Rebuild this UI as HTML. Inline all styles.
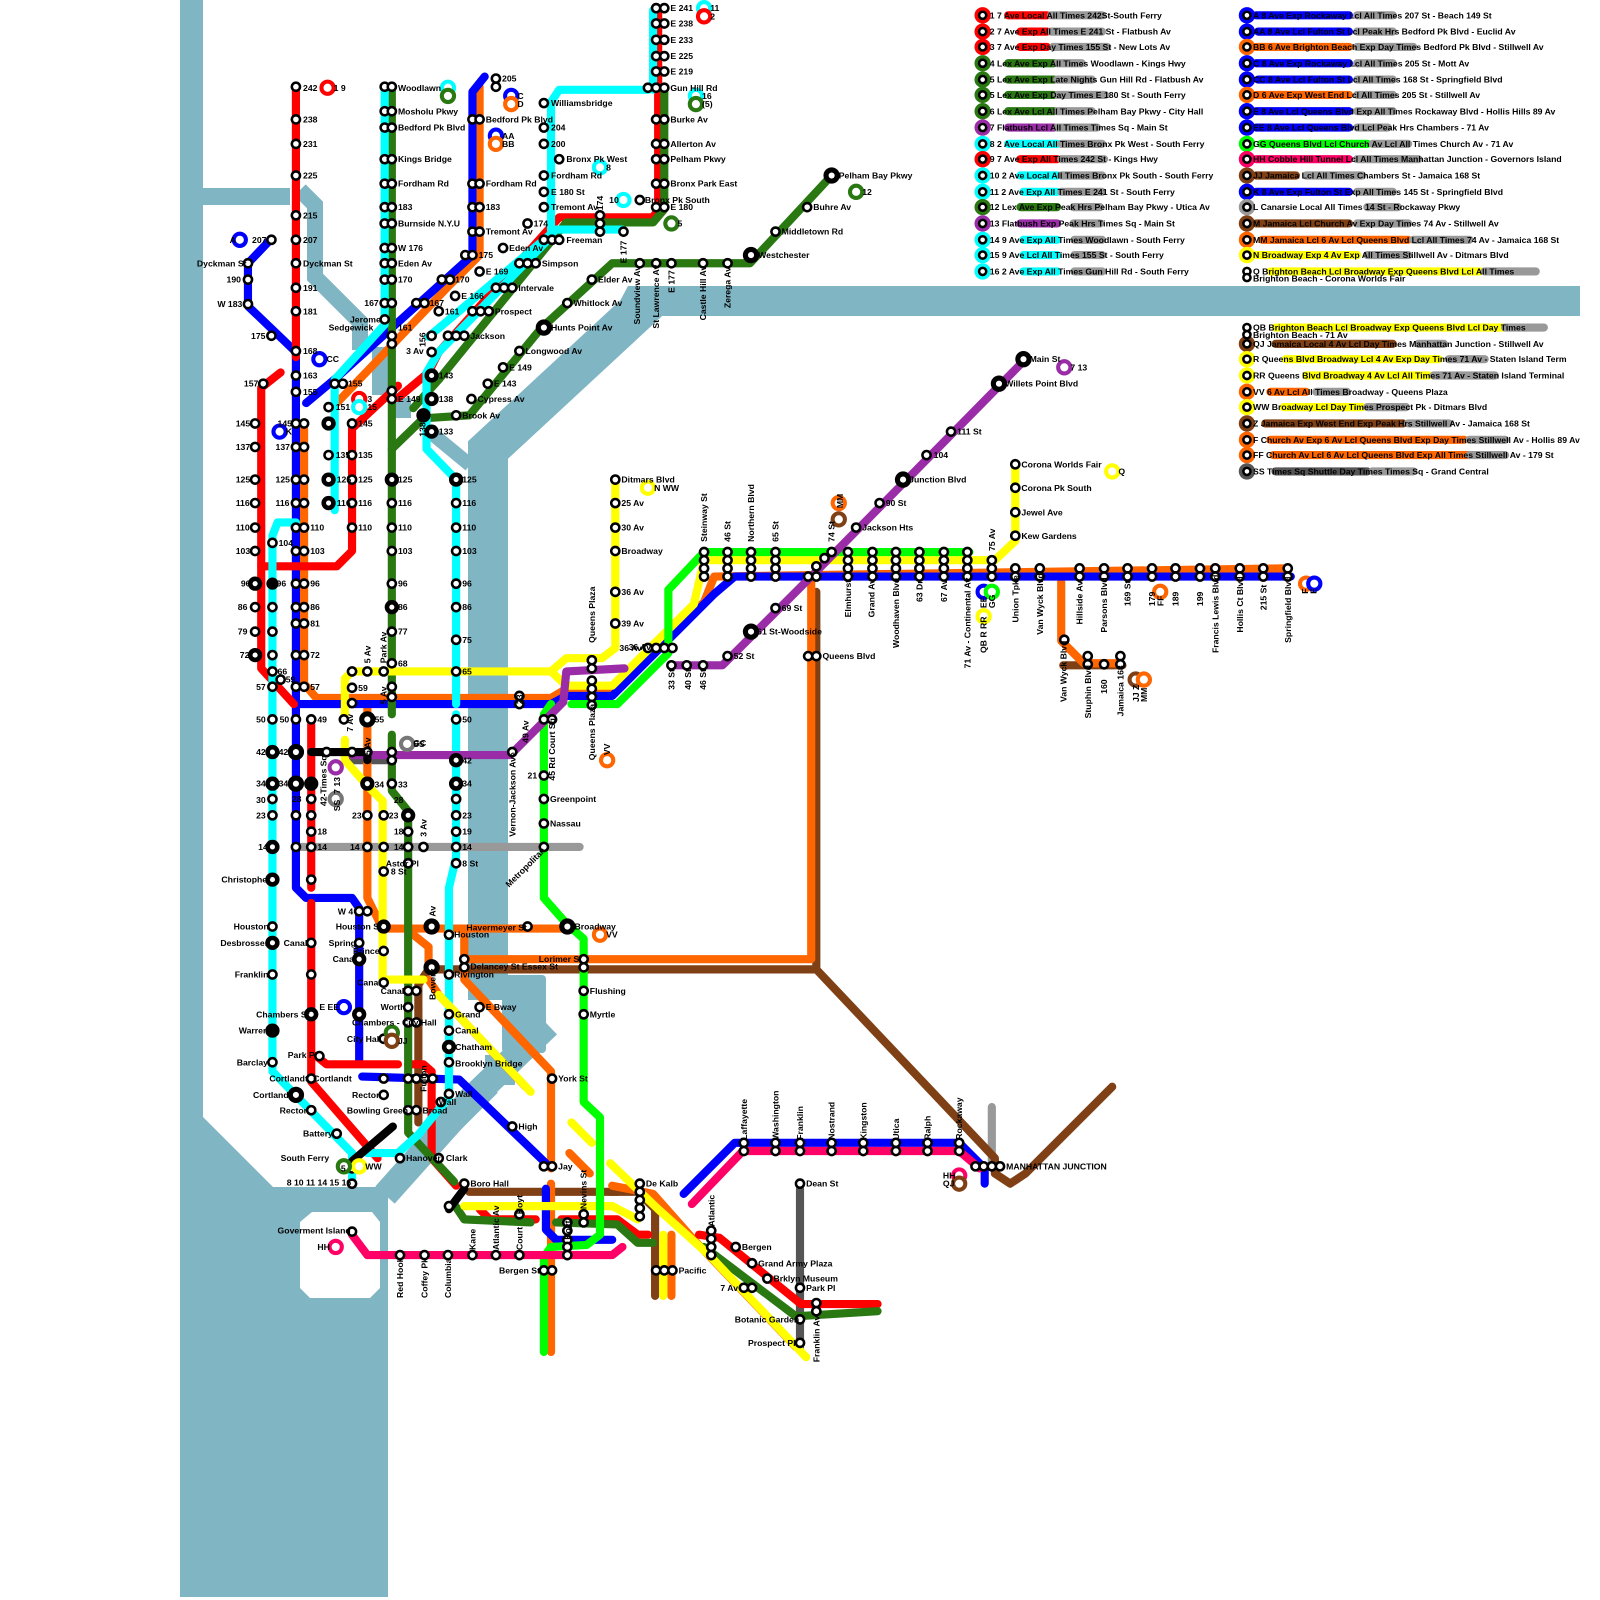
<!DOCTYPE html>
<html><head><meta charset="utf-8"><style>
html,body{margin:0;padding:0;background:#fff;width:1600px;height:1600px;overflow:hidden}
svg{display:block;position:absolute;left:0;top:0;width:1600px;height:1600px}
text{font-family:"Liberation Sans",sans-serif;font-size:8.5px;font-weight:bold;fill:#000}
.l{fill:none;stroke-width:8;stroke-linecap:round;stroke-linejoin:round}
.s{fill:#fff;stroke:#000;stroke-width:2.5}
.b{fill:#000}
.w{fill:#80b5c4}
.ws{fill:none;stroke:#80b5c4;stroke-linejoin:miter}
</style></head><body>
<svg width="1600" height="1600" viewBox="0 0 1600 1600" xmlns="http://www.w3.org/2000/svg">
<!-- WATER (true coords) -->
<polygon class="w" points="180,0 203,0 203,1117 273,1187 377,1187 388,1187 388,1597 180,1597"/>
<polygon fill="#fff" points="312,1212 372,1212 380,1222 380,1288 370,1298 310,1298 300,1288 300,1222"/>
<rect class="w" x="380" y="1200" width="8" height="397"/>
<polygon class="w" points="203,188 290,188 290,205 203,205"/>
<polyline class="ws" stroke-width="16" points="300,190 315,205 315,277 360,322 360,350"/>
<rect class="w" x="372" y="347" width="16" height="48"/>
<rect class="w" x="395" y="398" width="16" height="20"/>
<polyline class="ws" stroke-width="14" points="430,432 470,465"/>
<polyline class="ws" stroke-width="40" points="488,1000 488,450 650,300"/>
<polygon class="w" points="628,286 1580,286 1580,316 612,316"/>
<rect class="w" x="502" y="975" width="44" height="78" rx="4"/>
<polyline class="ws" stroke-width="26" points="548,1025 470,1100 385,1195"/>
<polyline class="ws" stroke-width="22" points="490,1085 445,1130"/>
<rect class="w" x="485" y="1055" width="30" height="30"/>

<g transform="scale(1.0204)">
<!-- LINES -->
<polyline class="l" stroke="#999" points="290,830 568,830"/>
<polyline class="l" stroke="#999" points="972,1085 972,1140"/>
<polyline class="l" stroke="#555" points="784,1165 784,1320"/>
<polyline class="l" stroke="#555" points="340,745 385,745"/>
<polyline class="l" stroke="#804015" points="410,990 410,965 420,950 800,950 800,580"/>
<polyline class="l" stroke="#804015" points="800,950 975,1135 975,1150 990,1160 1005,1150 1090,1065"/>
<polyline class="l" stroke="#804015" points="410,990 410,1100"/>
<polyline class="l" stroke="#804015" points="460,1168 605,1168"/>
<polyline class="l" stroke="#804015" points="598,1168 625,1168 642,1185 642,1270"/>
<polyline class="l" stroke="#804015" points="1042,652 1100,652"/>
<polyline class="l" stroke="#ff6600" points="470,85 470,250 440,280 330,395"/>
<polyline class="l" stroke="#ff6600" points="298,420 298,670 310,684 540,684 555,675 600,675 690,590 700,565 1260,557"/>
<polyline class="l" stroke="#ff6600" points="360,690 360,880 375,910 555,910"/>
<polyline class="l" stroke="#ff6600" points="400,912 420,928 420,950"/>
<polyline class="l" stroke="#ff6600" points="455,912 455,960 540,1050 540,1145"/>
<polyline class="l" stroke="#ff6600" points="420,960 430,975 515,1065"/>
<polyline class="l" stroke="#ff6600" points="455,940 795,940 795,570"/>
<polyline class="l" stroke="#ff6600" points="540,1160 540,1325"/>
<polyline class="l" stroke="#ff6600" points="558,1130 578,1150"/>
<polyline class="l" stroke="#ff6600" points="600,1162 640,1170 680,1215 780,1320"/>
<polyline class="l" stroke="#ff6600" points="658,1210 658,1270"/>
<polyline class="l" stroke="#ff6600" points="1040,570 1040,628 1062,650 1098,650"/>
<polyline class="l" stroke="#0000ff" points="265,235 243,258 243,300 290,345 290,870 300,880 345,880 352,890 352,1040"/>
<polyline class="l" stroke="#0000ff" points="475,75 463,90 463,250 330,370 300,395"/>
<polyline class="l" stroke="#0000ff" points="290,690 540,690 555,682 600,682 700,582 720,565 1265,565"/>
<polyline class="l" stroke="#0000ff" points="355,1055 450,1058 535,1140"/>
<polyline class="l" stroke="#0000ff" points="535,1165 535,1205 545,1215 600,1215"/>
<polyline class="l" stroke="#0000ff" points="670,1170 720,1120 940,1120 965,1145 965,1160"/>
<polyline class="l" stroke="#ff0000" points="290,85 290,350"/>
<polyline class="l" stroke="#ff0000" points="275,365 256,380 256,655 288,690"/>
<polyline class="l" stroke="#ff0000" points="305,710 305,870"/>
<polyline class="l" stroke="#ff0000" points="305,885 305,1060 370,1135"/>
<polyline class="l" stroke="#ff0000" points="310,1035 320,1043 390,1043"/>
<polyline class="l" stroke="#ff0000" points="400,1043 415,1043 423,1050 423,1135 447,1162"/>
<polyline class="l" stroke="#ff0000" points="256,555 330,555 345,540 345,420 390,378"/>
<polyline class="l" stroke="#ff0000" points="390,390 420,365 430,345 548,213 640,213 645,205 645,10"/>
<polyline class="l" stroke="#ff0000" points="470,1185 480,1195 525,1195"/>
<polyline class="l" stroke="#ff0000" points="550,1195 605,1195 625,1210 635,1210"/>
<polyline class="l" stroke="#ff0000" points="685,1210 705,1213 785,1278 860,1278"/>
<polyline class="l" stroke="#2a7812" points="384,85 384,700"/>
<polyline class="l" stroke="#2a7812" points="384,720 384,775 400,795 400,1110 445,1158"/>
<polyline class="l" stroke="#2a7812" points="384,440 415,410 460,407 530,322 600,258 735,258 815,172"/>
<polyline class="l" stroke="#2a7812" points="405,400 430,372 555,218 640,218 651,205 651,85"/>
<polyline class="l" stroke="#2a7812" points="445,1180 455,1195 520,1198"/>
<polyline class="l" stroke="#2a7812" points="545,1198 605,1200 625,1218 640,1218"/>
<polyline class="l" stroke="#2a7812" points="690,1222 780,1290 860,1285"/>
<polyline class="l" stroke="#00ffff" points="377,85 377,318 328,372 328,500"/>
<polyline class="l" stroke="#00ffff" points="290,512 272,512 267,525 267,1050 345,1130 345,1160"/>
<polyline class="l" stroke="#00ffff" points="447,470 418,440 418,365 430,345 540,232 540,100 548,88 635,88"/>
<polyline class="l" stroke="#00ffff" points="447,470 447,690"/>
<polyline class="l" stroke="#00ffff" points="447,700 447,840 440,870 440,1075 410,1112 390,1130 360,1130"/>
<polyline class="l" stroke="#00ffff" points="640,10 640,88"/>
<polyline class="l" stroke="#00ffff" points="420,330 545,225 610,225"/>
<polyline class="l" stroke="#ffff00" points="603,470 603,635 590,645 555,645 540,658 345,658 338,665 338,700"/>
<polyline class="l" stroke="#ffff00" points="540,658 555,672 600,672 680,592 690,549 950,549 975,549 995,530 995,455"/>
<polyline class="l" stroke="#ffff00" points="338,725 338,745 360,770 375,785 375,960 415,960"/>
<polyline class="l" stroke="#ffff00" points="430,975 520,1070"/>
<polyline class="l" stroke="#ffff00" points="455,1182 600,1182"/>
<polyline class="l" stroke="#ffff00" points="600,1182 625,1195"/>
<polyline class="l" stroke="#ffff00" points="560,1100 580,1120"/>
<polyline class="l" stroke="#ffff00" points="598,1140 645,1185 695,1230 790,1330"/>
<polyline class="l" stroke="#ffff00" points="650,1210 650,1270"/>
<polyline class="l" stroke="#00ff00" points="560,690 605,690 655,640 655,578 690,541 950,541"/>
<polyline class="l" stroke="#00ff00" points="540,690 533,700 533,880 555,905 572,920 572,1080 588,1095 588,1210 575,1220 540,1222 533,1232 533,1325"/>
<polyline class="l" stroke="#9a2ca8" points="345,740 500,740 552,688 555,658 612,655"/>
<polyline class="l" stroke="#9a2ca8" points="660,652 708,652 800,560 1005,352"/>
<polyline class="l" stroke="#ff0066" points="345,1210 360,1230 600,1230 610,1222"/>
<polyline class="l" stroke="#ff0066" points="678,1180 728,1128 940,1128 960,1145"/>
<polyline class="l" stroke="#000" points="305,737 360,737 360,745"/>
<polyline class="l" stroke="#000" points="345,1138 385,1104"/>
<polyline class="l" stroke="#000" points="440,1185 455,1165"/>

<!-- STATIONS -->
<g class="s">
<circle cx="290" cy="85" r="4"/><circle cx="290" cy="117" r="4"/><circle cx="290" cy="141" r="4"/><circle cx="290" cy="172" r="4"/><circle cx="290" cy="211" r="4"/><circle cx="290" cy="235" r="4"/><circle cx="290" cy="258" r="4"/><circle cx="290" cy="282" r="4"/><circle cx="290" cy="305" r="4"/><circle cx="290" cy="344" r="4"/>
<circle cx="243" cy="258" r="4"/><circle cx="243" cy="274" r="4"/><circle cx="243" cy="298" r="4"/><circle cx="266" cy="235" r="4"/><circle cx="266" cy="329" r="4"/><circle cx="235" cy="235" r="4"/>
<circle cx="258" cy="376" r="4"/>
<circle cx="250" cy="415" r="4"/><circle cx="250" cy="438" r="4"/><circle cx="250" cy="470" r="4"/><circle cx="250" cy="493" r="4"/><circle cx="250" cy="517" r="4"/><circle cx="250" cy="540" r="4"/><circle cx="250" cy="595" r="4"/><circle cx="250" cy="619" r="4"/>
<circle cx="290" cy="368" r="4"/><circle cx="290" cy="384" r="4"/><circle cx="290" cy="415" r="4"/><circle cx="298" cy="415" r="4"/><circle cx="290" cy="438" r="4"/><circle cx="298" cy="438" r="4"/><circle cx="290" cy="470" r="4"/><circle cx="298" cy="470" r="4"/><circle cx="290" cy="493" r="4"/><circle cx="298" cy="493" r="4"/><circle cx="290" cy="517" r="4"/><circle cx="298" cy="517" r="4"/><circle cx="290" cy="540" r="4"/><circle cx="298" cy="540" r="4"/><circle cx="290" cy="572" r="4"/><circle cx="298" cy="572" r="4"/><circle cx="290" cy="595" r="4"/><circle cx="298" cy="595" r="4"/><circle cx="290" cy="611" r="4"/><circle cx="298" cy="611" r="4"/><circle cx="290" cy="642" r="4"/><circle cx="298" cy="642" r="4"/><circle cx="290" cy="673" r="4"/><circle cx="298" cy="673" r="4"/>
<circle cx="267" cy="532" r="4"/><circle cx="267" cy="595" r="4"/><circle cx="267" cy="619" r="4"/><circle cx="267" cy="642" r="4"/><circle cx="267" cy="658" r="4"/><circle cx="275" cy="666" r="4"/><circle cx="267" cy="673" r="4"/><circle cx="267" cy="705" r="4"/><circle cx="267" cy="783" r="4"/><circle cx="267" cy="799" r="4"/><circle cx="267" cy="908" r="4"/><circle cx="267" cy="955" r="4"/><circle cx="267" cy="1041" r="4"/><circle cx="305" cy="1088" r="4"/><circle cx="330" cy="1111" r="4"/><circle cx="345" cy="1145" r="4"/><circle cx="345" cy="1160" r="4"/>
<circle cx="290" cy="705" r="4"/><circle cx="305" cy="705" r="4"/><circle cx="305" cy="783" r="4"/><circle cx="305" cy="799" r="4"/><circle cx="305" cy="815" r="4"/><circle cx="290" cy="799" r="4"/><circle cx="290" cy="830" r="4"/><circle cx="305" cy="830" r="4"/><circle cx="305" cy="862" r="4"/><circle cx="305" cy="924" r="4"/><circle cx="305" cy="955" r="4"/><circle cx="305" cy="1057" r="4"/><circle cx="313" cy="1035" r="4"/>
<circle cx="328" cy="376" r="4"/><circle cx="336" cy="376" r="4"/><circle cx="322" cy="399" r="4"/><circle cx="322" cy="446" r="4"/><circle cx="345" cy="415" r="4"/><circle cx="345" cy="446" r="4"/><circle cx="345" cy="470" r="4"/><circle cx="345" cy="493" r="4"/><circle cx="345" cy="517" r="4"/><circle cx="352" cy="391" r="4"/><circle cx="352" cy="399" r="4"/>
<circle cx="377" cy="85" r="4"/><circle cx="384" cy="85" r="4"/><circle cx="377" cy="109" r="4"/><circle cx="384" cy="109" r="4"/><circle cx="377" cy="125" r="4"/><circle cx="384" cy="125" r="4"/><circle cx="377" cy="156" r="4"/><circle cx="384" cy="156" r="4"/><circle cx="377" cy="180" r="4"/><circle cx="384" cy="180" r="4"/><circle cx="377" cy="203" r="4"/><circle cx="384" cy="203" r="4"/><circle cx="377" cy="219" r="4"/><circle cx="384" cy="219" r="4"/><circle cx="377" cy="243" r="4"/><circle cx="384" cy="243" r="4"/><circle cx="377" cy="258" r="4"/><circle cx="384" cy="258" r="4"/><circle cx="377" cy="274" r="4"/><circle cx="384" cy="274" r="4"/><circle cx="377" cy="297" r="4"/><circle cx="384" cy="297" r="4"/><circle cx="377" cy="313" r="4"/><circle cx="384" cy="329" r="4"/><circle cx="384" cy="337" r="4"/><circle cx="384" cy="383" r="4"/><circle cx="384" cy="391" r="4"/>
<circle cx="384" cy="493" r="4"/><circle cx="384" cy="517" r="4"/><circle cx="384" cy="540" r="4"/><circle cx="384" cy="572" r="4"/><circle cx="384" cy="619" r="4"/><circle cx="384" cy="650" r="4"/><circle cx="376" cy="658" r="4"/><circle cx="384" cy="673" r="4"/><circle cx="384" cy="683" r="4"/><circle cx="384" cy="737" r="4"/><circle cx="384" cy="745" r="4"/><circle cx="384" cy="768" r="4"/><circle cx="400" cy="815" r="4"/><circle cx="400" cy="830" r="4"/><circle cx="400" cy="846" r="4"/>
<circle cx="447" cy="493" r="4"/><circle cx="447" cy="517" r="4"/><circle cx="447" cy="540" r="4"/><circle cx="447" cy="572" r="4"/><circle cx="447" cy="595" r="4"/><circle cx="447" cy="627" r="4"/><circle cx="447" cy="658" r="4"/><circle cx="447" cy="705" r="4"/><circle cx="447" cy="783" r="4"/><circle cx="447" cy="799" r="4"/><circle cx="447" cy="815" r="4"/><circle cx="447" cy="830" r="4"/><circle cx="447" cy="846" r="4"/><circle cx="415" cy="830" r="4"/>
<circle cx="440" cy="916" r="4"/><circle cx="440" cy="955" r="4"/><circle cx="440" cy="994" r="4"/><circle cx="440" cy="1010" r="4"/><circle cx="440" cy="1041" r="4"/><circle cx="440" cy="1072" r="4"/><circle cx="432" cy="1080" r="4"/><circle cx="392" cy="1135" r="4"/><circle cx="430" cy="1135" r="4"/><circle cx="440" cy="1182" r="4"/><circle cx="455" cy="1160" r="4"/>
<circle cx="463" cy="117" r="4"/><circle cx="470" cy="117" r="4"/><circle cx="463" cy="180" r="4"/><circle cx="470" cy="180" r="4"/><circle cx="463" cy="203" r="4"/><circle cx="470" cy="203" r="4"/><circle cx="463" cy="227" r="4"/><circle cx="470" cy="227" r="4"/><circle cx="456" cy="250" r="4"/><circle cx="463" cy="250" r="4"/><circle cx="433" cy="274" r="4"/><circle cx="441" cy="274" r="4"/><circle cx="408" cy="297" r="4"/><circle cx="416" cy="297" r="4"/><circle cx="486" cy="77" r="4"/><circle cx="486" cy="85" r="4"/>
<circle cx="533" cy="101" r="4"/><circle cx="533" cy="125" r="4"/><circle cx="533" cy="141" r="4"/><circle cx="548" cy="156" r="4"/><circle cx="533" cy="172" r="4"/><circle cx="533" cy="188" r="4"/><circle cx="533" cy="203" r="4"/><circle cx="517" cy="219" r="4"/><circle cx="493" cy="243" r="4"/><circle cx="470" cy="266" r="4"/><circle cx="446" cy="290" r="4"/><circle cx="430" cy="305" r="4"/><circle cx="423" cy="329" r="4"/><circle cx="423" cy="345" r="4"/>
<circle cx="533" cy="235" r="4"/><circle cx="541" cy="235" r="4"/><circle cx="548" cy="235" r="4"/><circle cx="509" cy="258" r="4"/><circle cx="517" cy="258" r="4"/><circle cx="525" cy="258" r="4"/><circle cx="486" cy="282" r="4"/><circle cx="494" cy="282" r="4"/><circle cx="502" cy="282" r="4"/><circle cx="463" cy="305" r="4"/><circle cx="471" cy="305" r="4"/><circle cx="479" cy="305" r="4"/><circle cx="439" cy="329" r="4"/><circle cx="447" cy="329" r="4"/><circle cx="455" cy="329" r="4"/>
<circle cx="588" cy="211" r="4"/><circle cx="588" cy="219" r="4"/><circle cx="588" cy="227" r="4"/><circle cx="611" cy="227" r="4"/><circle cx="627" cy="196" r="4"/><circle cx="580" cy="274" r="4"/><circle cx="556" cy="297" r="4"/><circle cx="509" cy="344" r="4"/><circle cx="493" cy="360" r="4"/><circle cx="478" cy="376" r="4"/><circle cx="462" cy="391" r="4"/><circle cx="447" cy="407" r="4"/>
<circle cx="627" cy="258" r="4"/><circle cx="643" cy="258" r="4"/><circle cx="658" cy="258" r="4"/><circle cx="689" cy="258" r="4"/><circle cx="713" cy="258" r="4"/><circle cx="760" cy="227" r="4"/><circle cx="791" cy="203" r="4"/>
<circle cx="643" cy="8" r="4"/><circle cx="651" cy="8" r="4"/><circle cx="643" cy="23" r="4"/><circle cx="651" cy="23" r="4"/><circle cx="643" cy="39" r="4"/><circle cx="651" cy="39" r="4"/><circle cx="643" cy="55" r="4"/><circle cx="651" cy="55" r="4"/><circle cx="643" cy="70" r="4"/><circle cx="651" cy="70" r="4"/><circle cx="635" cy="86" r="4"/><circle cx="643" cy="86" r="4"/><circle cx="651" cy="86" r="4"/><circle cx="643" cy="117" r="4"/><circle cx="651" cy="117" r="4"/><circle cx="643" cy="141" r="4"/><circle cx="651" cy="141" r="4"/><circle cx="643" cy="156" r="4"/><circle cx="651" cy="156" r="4"/><circle cx="643" cy="180" r="4"/><circle cx="651" cy="180" r="4"/><circle cx="643" cy="203" r="4"/><circle cx="651" cy="203" r="4"/>
<circle cx="603" cy="470" r="4"/><circle cx="603" cy="493" r="4"/><circle cx="603" cy="517" r="4"/><circle cx="603" cy="540" r="4"/><circle cx="603" cy="580" r="4"/><circle cx="603" cy="611" r="4"/><circle cx="635" cy="635" r="4"/><circle cx="643" cy="635" r="4"/><circle cx="651" cy="635" r="4"/><circle cx="659" cy="635" r="4"/><circle cx="580" cy="647" r="4"/><circle cx="580" cy="655" r="4"/><circle cx="580" cy="667" r="4"/><circle cx="580" cy="675" r="4"/><circle cx="580" cy="683" r="4"/><circle cx="580" cy="691" r="4"/>
<circle cx="673" cy="652" r="4"/><circle cx="689" cy="652" r="4"/><circle cx="658" cy="652" r="4"/><circle cx="713" cy="643" r="4"/><circle cx="760" cy="596" r="4"/>
<circle cx="690" cy="541" r="4"/><circle cx="690" cy="549" r="4"/><circle cx="690" cy="557" r="4"/><circle cx="690" cy="565" r="4"/><circle cx="713" cy="541" r="4"/><circle cx="713" cy="549" r="4"/><circle cx="713" cy="557" r="4"/><circle cx="713" cy="565" r="4"/><circle cx="736" cy="541" r="4"/><circle cx="736" cy="549" r="4"/><circle cx="736" cy="557" r="4"/><circle cx="736" cy="565" r="4"/><circle cx="760" cy="541" r="4"/><circle cx="760" cy="549" r="4"/><circle cx="760" cy="557" r="4"/><circle cx="760" cy="565" r="4"/>
<circle cx="792" cy="565" r="4"/><circle cx="800" cy="565" r="4"/><circle cx="800" cy="555" r="4"/><circle cx="808" cy="547" r="4"/><circle cx="815" cy="541" r="4"/><circle cx="839" cy="517" r="4"/><circle cx="862" cy="493" r="4"/><circle cx="908" cy="446" r="4"/><circle cx="932" cy="423" r="4"/><circle cx="792" cy="643" r="4"/><circle cx="800" cy="643" r="4"/>
<circle cx="831" cy="541" r="4"/><circle cx="831" cy="549" r="4"/><circle cx="831" cy="557" r="4"/><circle cx="831" cy="565" r="4"/><circle cx="855" cy="541" r="4"/><circle cx="855" cy="549" r="4"/><circle cx="855" cy="557" r="4"/><circle cx="855" cy="565" r="4"/><circle cx="878" cy="541" r="4"/><circle cx="878" cy="549" r="4"/><circle cx="878" cy="557" r="4"/><circle cx="878" cy="565" r="4"/><circle cx="901" cy="541" r="4"/><circle cx="901" cy="549" r="4"/><circle cx="901" cy="557" r="4"/><circle cx="901" cy="565" r="4"/><circle cx="925" cy="541" r="4"/><circle cx="925" cy="549" r="4"/><circle cx="925" cy="557" r="4"/><circle cx="925" cy="565" r="4"/><circle cx="948" cy="541" r="4"/><circle cx="948" cy="549" r="4"/><circle cx="948" cy="557" r="4"/><circle cx="948" cy="565" r="4"/><circle cx="972" cy="549" r="4"/><circle cx="972" cy="557" r="4"/><circle cx="972" cy="565" r="4"/>
<circle cx="995" cy="455" r="4"/><circle cx="995" cy="478" r="4"/><circle cx="995" cy="502" r="4"/><circle cx="995" cy="525" r="4"/><circle cx="995" cy="557" r="4"/><circle cx="995" cy="565" r="4"/><circle cx="1019" cy="557" r="4"/><circle cx="1019" cy="565" r="4"/><circle cx="1058" cy="557" r="4"/><circle cx="1058" cy="565" r="4"/><circle cx="1082" cy="557" r="4"/><circle cx="1082" cy="565" r="4"/><circle cx="1105" cy="557" r="4"/><circle cx="1105" cy="565" r="4"/><circle cx="1129" cy="557" r="4"/><circle cx="1129" cy="565" r="4"/><circle cx="1152" cy="557" r="4"/><circle cx="1152" cy="565" r="4"/><circle cx="1176" cy="557" r="4"/><circle cx="1176" cy="565" r="4"/><circle cx="1191" cy="557" r="4"/><circle cx="1191" cy="565" r="4"/><circle cx="1215" cy="557" r="4"/><circle cx="1215" cy="565" r="4"/><circle cx="1238" cy="557" r="4"/><circle cx="1238" cy="565" r="4"/><circle cx="1262" cy="557" r="4"/><circle cx="1262" cy="565" r="4"/>
<circle cx="1043" cy="627" r="4"/><circle cx="1066" cy="643" r="4"/><circle cx="1066" cy="651" r="4"/><circle cx="1082" cy="651" r="4"/><circle cx="1098" cy="643" r="4"/><circle cx="1098" cy="651" r="4"/>
<circle cx="345" cy="658" r="4"/><circle cx="360" cy="658" r="4"/><circle cx="345" cy="674" r="4"/><circle cx="345" cy="689" r="4"/><circle cx="337" cy="705" r="4"/><circle cx="360" cy="737" r="4"/><circle cx="320" cy="737" r="4"/><circle cx="345" cy="737" r="4"/><circle cx="376" cy="799" r="4"/><circle cx="360" cy="799" r="4"/><circle cx="360" cy="830" r="4"/><circle cx="376" cy="830" r="4"/><circle cx="376" cy="854" r="4"/><circle cx="400" cy="846" r="4"/>
<circle cx="352" cy="893" r="4"/><circle cx="360" cy="893" r="4"/><circle cx="352" cy="924" r="4"/><circle cx="376" cy="932" r="4"/><circle cx="376" cy="963" r="4"/><circle cx="400" cy="971" r="4"/><circle cx="408" cy="971" r="4"/><circle cx="400" cy="987" r="4"/><circle cx="400" cy="1002" r="4"/><circle cx="408" cy="1002" r="4"/><circle cx="376" cy="1018" r="4"/><circle cx="384" cy="1018" r="4"/><circle cx="376" cy="1057" r="4"/><circle cx="376" cy="1073" r="4"/><circle cx="400" cy="1057" r="4"/><circle cx="408" cy="1057" r="4"/><circle cx="416" cy="1057" r="4"/><circle cx="424" cy="1057" r="4"/><circle cx="400" cy="1088" r="4"/><circle cx="408" cy="1088" r="4"/>
<circle cx="455" cy="940" r="4"/><circle cx="455" cy="948" r="4"/><circle cx="470" cy="987" r="4"/><circle cx="517" cy="908" r="4"/><circle cx="541" cy="1057" r="4"/><circle cx="502" cy="1104" r="4"/><circle cx="533" cy="1143" r="4"/><circle cx="541" cy="1143" r="4"/>
<circle cx="572" cy="940" r="4"/><circle cx="572" cy="948" r="4"/><circle cx="572" cy="971" r="4"/><circle cx="572" cy="994" r="4"/><circle cx="533" cy="783" r="4"/><circle cx="533" cy="807" r="4"/><circle cx="533" cy="830" r="4"/><circle cx="533" cy="760" r="4"/><circle cx="533" cy="705" r="4"/><circle cx="541" cy="705" r="4"/><circle cx="502" cy="737" r="4"/><circle cx="509" cy="682" r="4"/><circle cx="509" cy="690" r="4"/>
<circle cx="509" cy="1190" r="4"/><circle cx="556" cy="1198" r="4"/><circle cx="556" cy="1206" r="4"/><circle cx="556" cy="1215" r="4"/><circle cx="556" cy="1222" r="4"/><circle cx="556" cy="1230" r="4"/><circle cx="572" cy="1190" r="4"/><circle cx="572" cy="1198" r="4"/><circle cx="533" cy="1245" r="4"/><circle cx="541" cy="1245" r="4"/>
<circle cx="392" cy="1230" r="4"/><circle cx="416" cy="1230" r="4"/><circle cx="439" cy="1230" r="4"/><circle cx="463" cy="1230" r="4"/><circle cx="486" cy="1230" r="4"/><circle cx="509" cy="1230" r="4"/><circle cx="345" cy="1207" r="4"/>
<circle cx="627" cy="1160" r="4"/><circle cx="627" cy="1168" r="4"/><circle cx="627" cy="1176" r="4"/><circle cx="627" cy="1184" r="4"/><circle cx="627" cy="1192" r="4"/><circle cx="643" cy="1245" r="4"/><circle cx="651" cy="1245" r="4"/><circle cx="659" cy="1245" r="4"/>
<circle cx="697" cy="1206" r="4"/><circle cx="697" cy="1214" r="4"/><circle cx="697" cy="1222" r="4"/><circle cx="697" cy="1230" r="4"/><circle cx="721" cy="1222" r="4"/><circle cx="737" cy="1238" r="4"/><circle cx="752" cy="1253" r="4"/><circle cx="729" cy="1262" r="4"/><circle cx="737" cy="1262" r="4"/><circle cx="784" cy="1160" r="4"/><circle cx="784" cy="1262" r="4"/><circle cx="800" cy="1277" r="4"/><circle cx="800" cy="1285" r="4"/><circle cx="784" cy="1293" r="4"/><circle cx="784" cy="1316" r="4"/>
<circle cx="729" cy="1120" r="4"/><circle cx="729" cy="1128" r="4"/><circle cx="760" cy="1120" r="4"/><circle cx="760" cy="1128" r="4"/><circle cx="784" cy="1120" r="4"/><circle cx="784" cy="1128" r="4"/><circle cx="815" cy="1120" r="4"/><circle cx="815" cy="1128" r="4"/><circle cx="846" cy="1120" r="4"/><circle cx="846" cy="1128" r="4"/><circle cx="878" cy="1120" r="4"/><circle cx="878" cy="1128" r="4"/><circle cx="909" cy="1120" r="4"/><circle cx="909" cy="1128" r="4"/><circle cx="940" cy="1120" r="4"/><circle cx="940" cy="1128" r="4"/><circle cx="956" cy="1143" r="4"/><circle cx="964" cy="1143" r="4"/><circle cx="972" cy="1143" r="4"/><circle cx="980" cy="1143" r="4"/>
</g>
<g class="b">
<circle cx="250" cy="572" r="7"/><circle cx="267" cy="572" r="6"/><circle cx="250" cy="642" r="7"/><circle cx="322" cy="415" r="7"/><circle cx="322" cy="470" r="7"/><circle cx="322" cy="493" r="7"/><circle cx="384" cy="470" r="7"/><circle cx="447" cy="470" r="7"/><circle cx="384" cy="595" r="7"/><circle cx="423" cy="368" r="7"/><circle cx="423" cy="391" r="7"/><circle cx="415" cy="407" r="7"/><circle cx="423" cy="423" r="7"/>
<circle cx="267" cy="737" r="7"/><circle cx="290" cy="737" r="8"/><circle cx="267" cy="768" r="7"/><circle cx="290" cy="768" r="8"/><circle cx="305" cy="768" r="7"/><circle cx="267" cy="830" r="7"/><circle cx="267" cy="862" r="7"/><circle cx="267" cy="924" r="7"/><circle cx="305" cy="994" r="7"/><circle cx="267" cy="1010" r="7"/><circle cx="290" cy="1073" r="8"/>
<circle cx="360" cy="705" r="8"/><circle cx="360" cy="768" r="7"/><circle cx="400" cy="799" r="7"/><circle cx="447" cy="745" r="7"/><circle cx="447" cy="768" r="7"/><circle cx="376" cy="908" r="7"/><circle cx="423" cy="908" r="8"/><circle cx="423" cy="948" r="8"/><circle cx="352" cy="940" r="7"/><circle cx="352" cy="994" r="7"/><circle cx="440" cy="1026" r="7"/><circle cx="556" cy="908" r="8"/>
<circle cx="533" cy="321" r="8"/><circle cx="736" cy="250" r="8"/><circle cx="815" cy="172" r="8"/><circle cx="736" cy="619" r="8"/><circle cx="885" cy="470" r="8"/><circle cx="979" cy="376" r="8"/><circle cx="1003" cy="352" r="8"/>
</g>
<g fill="#fff"><circle cx="250" cy="572" r="2.5"/><circle cx="250" cy="642" r="2.5"/><circle cx="322" cy="415" r="2.5"/><circle cx="322" cy="470" r="2.5"/><circle cx="322" cy="493" r="2.5"/><circle cx="384" cy="470" r="2.5"/><circle cx="447" cy="470" r="2.5"/><circle cx="384" cy="595" r="2.5"/><circle cx="290" cy="737" r="3"/><circle cx="290" cy="768" r="3"/><circle cx="267" cy="737" r="2.5"/><circle cx="267" cy="768" r="2.5"/><circle cx="267" cy="830" r="2.5"/><circle cx="267" cy="862" r="2.5"/><circle cx="267" cy="924" r="2.5"/><circle cx="305" cy="994" r="2.5"/><circle cx="290" cy="1073" r="3"/><circle cx="360" cy="705" r="3"/><circle cx="360" cy="768" r="2.5"/><circle cx="400" cy="799" r="2.5"/><circle cx="447" cy="745" r="2.5"/><circle cx="447" cy="768" r="2.5"/><circle cx="376" cy="908" r="2.5"/><circle cx="423" cy="908" r="3"/><circle cx="423" cy="948" r="3"/><circle cx="352" cy="940" r="2.5"/><circle cx="352" cy="994" r="2.5"/><circle cx="440" cy="1026" r="2.5"/><circle cx="556" cy="908" r="3"/><circle cx="533" cy="321" r="3"/><circle cx="736" cy="250" r="3"/><circle cx="815" cy="172" r="3"/><circle cx="736" cy="619" r="3"/><circle cx="885" cy="470" r="3"/><circle cx="979" cy="376" r="3"/><circle cx="1003" cy="352" r="3"/><circle cx="423" cy="368" r="2.5"/><circle cx="423" cy="391" r="2.5"/><circle cx="423" cy="423" r="2.5"/></g>
<g stroke-width="4" fill="#fff">
<circle cx="235" cy="235" r="6" stroke="#0000ff"/><circle cx="321" cy="86" r="6" stroke="#ff0000"/><circle cx="313" cy="352" r="6" stroke="#0000ff"/><circle cx="274" cy="423" r="6" stroke="#0000ff"/><circle cx="352" cy="391" r="6" stroke="#ff0000"/><circle cx="352" cy="399" r="6" stroke="#00ffff"/>
<circle cx="439" cy="86" r="6" stroke="#00ffff"/><circle cx="439" cy="94" r="6" stroke="#2a7812"/><circle cx="501" cy="94" r="6" stroke="#0000ff"/><circle cx="501" cy="102" r="6" stroke="#ff6600"/><circle cx="486" cy="133" r="6" stroke="#0000ff"/><circle cx="486" cy="141" r="6" stroke="#ff6600"/>
<circle cx="588" cy="164" r="6" stroke="#00ffff"/><circle cx="611" cy="196" r="6" stroke="#00ffff"/><circle cx="658" cy="219" r="6" stroke="#2a7812"/><circle cx="690" cy="8" r="6" stroke="#00ffff"/><circle cx="690" cy="16" r="6" stroke="#ff0000"/><circle cx="682" cy="94" r="6" stroke="#00ffff"/><circle cx="682" cy="102" r="6" stroke="#2a7812"/><circle cx="839" cy="188" r="6" stroke="#2a7812"/>
<circle cx="635" cy="478" r="6" stroke="#ffff00"/><circle cx="822" cy="493" r="6" stroke="#ff6600"/><circle cx="822" cy="509" r="6" stroke="#804015"/><circle cx="1043" cy="360" r="6" stroke="#9a2ca8"/><circle cx="1090" cy="462" r="6" stroke="#ffff00"/>
<circle cx="964" cy="580" r="6" stroke="#0000ff"/><circle cx="972" cy="580" r="6" stroke="#00ff00"/><circle cx="964" cy="604" r="6" stroke="#ffff00"/><circle cx="1137" cy="580" r="6" stroke="#ff6600"/><circle cx="1113" cy="666" r="6" stroke="#804015"/><circle cx="1121" cy="666" r="6" stroke="#ff6600"/><circle cx="1280" cy="572" r="6" stroke="#ff6600"/><circle cx="1288" cy="572" r="6" stroke="#0000ff"/>
<circle cx="595" cy="745" r="6" stroke="#ff6600"/><circle cx="588" cy="916" r="6" stroke="#ff6600"/><circle cx="329" cy="752" r="6" stroke="#9a2ca8"/><circle cx="329" cy="783" r="6" stroke="#777"/><circle cx="399" cy="729" r="6" stroke="#777"/><circle cx="337" cy="987" r="6" stroke="#0000ff"/><circle cx="384" cy="1012" r="6" stroke="#2a7812"/><circle cx="384" cy="1020" r="6" stroke="#804015"/><circle cx="329" cy="1222" r="6" stroke="#ff0066"/><circle cx="940" cy="1152" r="6" stroke="#ff0066"/><circle cx="940" cy="1160" r="6" stroke="#804015"/><circle cx="352" cy="1143" r="6" stroke="#ffff00"/><circle cx="337" cy="1143" r="6" stroke="#2a7812"/>
</g>

<!-- LABELS -->
<g>
<text x="297" y="89">242</text><text x="297" y="120">238</text><text x="297" y="144">231</text><text x="297" y="175">225</text><text x="297" y="214">215</text><text x="297" y="238">207</text><text x="297" y="261">Dyckman St</text><text x="297" y="285">191</text><text x="297" y="308">181</text><text x="297" y="347">168</text><text x="327" y="89">1 9</text>
<text x="193" y="261">Dyckman St</text><text x="222" y="277">190</text><text x="213" y="301">W 183</text><text x="246" y="332">175</text><text x="247" y="238">207</text><text x="225" y="238">A</text>
<text x="239" y="379">157</text><text x="231" y="418">145</text><text x="231" y="441">137</text><text x="231" y="473">125</text><text x="231" y="496">116</text><text x="231" y="520">110</text><text x="231" y="543">103</text><text x="236" y="575">96</text><text x="233" y="598">86</text><text x="233" y="622">79</text><text x="235" y="645">72</text>
<text x="297" y="371">163</text><text x="297" y="387">155</text><text x="272" y="418">145</text><text x="270" y="441">137</text><text x="270" y="473">125</text><text x="270" y="496">116</text><text x="304" y="520">110</text><text x="304" y="543">103</text><text x="304" y="575">96</text><text x="304" y="598">86</text><text x="304" y="614">81</text><text x="304" y="645">72</text><text x="304" y="676">57</text><text x="273" y="535">104</text><text x="271" y="575">96</text><text x="280" y="669">59</text><text x="272" y="661">66</text><text x="251" y="676">57</text>
<text x="251" y="708">50</text><text x="274" y="708">50</text><text x="311" y="708">49</text><text x="251" y="740">42</text><text x="273" y="740">42</text><text x="251" y="771">34</text><text x="273" y="771">34</text><text x="251" y="787">30</text><text x="251" y="802">23</text><text x="286" y="786">28</text><text x="311" y="818">18</text><text x="253" y="833">14</text><text x="311" y="833">14</text>
<text x="217" y="865">Christopher</text><text x="229" y="911">Houston</text><text x="216" y="927">Desbrosses</text><text x="278" y="927">Canal</text><text x="230" y="958">Franklin</text><text x="251" y="997">Chambers St</text><text x="234" y="1013">Warren</text><text x="232" y="1044">Barclay</text><text x="282" y="1037">Park Pl</text><text x="264" y="1060">Cortlandt</text><text x="248" y="1076">Cortlandt</text><text x="274" y="1091">Rector</text><text x="297" y="1114">Battery</text><text x="275" y="1138">South Ferry</text><text x="281" y="1162">8 10 11 14 15 16</text><text x="334" y="1148">5</text><text x="358" y="1146">WW</text>
<text x="272" y="1209">Goverment Island</text><text x="311" y="1225">HH</text>
<text x="341" y="379">155</text><text x="329" y="402">151</text><text x="351" y="418">145</text><text x="329" y="449">135</text><text x="351" y="449">135</text><text x="330" y="473">125</text><text x="351" y="473">125</text><text x="330" y="496">116</text><text x="351" y="496">116</text><text x="351" y="520">110</text><text x="360" y="394">3</text><text x="360" y="402">15</text><text x="320" y="355">CC</text><text x="280" y="426">K</text>
<text x="390" y="89">Woodlawn</text><text x="390" y="112">Mosholu Pkwy</text><text x="390" y="128">Bedford Pk Blvd</text><text x="390" y="159">Kings Bridge</text><text x="390" y="183">Fordham Rd</text><text x="390" y="206">183</text><text x="390" y="222">Burnside N.Y.U</text><text x="390" y="246">W 176</text><text x="390" y="261">Eden Av</text><text x="390" y="277">170</text><text x="357" y="300">167</text><text x="343" y="316">Jerome</text><text x="322" y="324">Sedgewick</text><text x="390" y="324">161</text><text x="390" y="394">E 149</text><text x="398" y="347">3 Av</text><text x="430" y="371">143</text><text x="430" y="394">138</text><text x="430" y="426">133</text>
<text x="390" y="473">125</text><text x="390" y="496">116</text><text x="390" y="520">110</text><text x="390" y="543">103</text><text x="390" y="575">96</text><text x="390" y="598">86</text><text x="390" y="622">77</text><text x="390" y="653">68</text>
<text x="453" y="473">125</text><text x="453" y="496">116</text><text x="453" y="520">110</text><text x="453" y="543">103</text><text x="453" y="575">96</text><text x="453" y="598">86</text><text x="453" y="630">75</text><text x="453" y="661">65</text><text x="453" y="708">50</text><text x="453" y="748">42</text><text x="453" y="771">34</text><text x="453" y="802">23</text><text x="453" y="818">19</text><text x="453" y="833">14</text><text x="453" y="849">8 St</text>
<text x="476" y="120">Bedford Pk Blvd</text><text x="476" y="183">Fordham Rd</text><text x="476" y="206">183</text><text x="476" y="230">Tremont Av</text><text x="469" y="253">175</text><text x="446" y="277">170</text><text x="421" y="300">167</text><text x="492" y="80">205</text><text x="507" y="97">C</text><text x="507" y="105">D</text><text x="492" y="136">AA</text><text x="492" y="144">BB</text>
<text x="540" y="104">Williamsbridge</text><text x="540" y="128">204</text><text x="540" y="144">200</text><text x="555" y="159">Bronx Pk West</text><text x="540" y="175">Fordham Rd</text><text x="540" y="191">E 180 St</text><text x="540" y="206">Tremont Av</text><text x="523" y="222">174</text><text x="499" y="246">Eden Av</text><text x="476" y="269">E 169</text><text x="452" y="293">E 166</text><text x="436" y="308">161</text><text x="555" y="238">Freeman</text><text x="531" y="261">Simpson</text><text x="508" y="285">Intervale</text><text x="485" y="308">Prospect</text><text x="461" y="332">Jackson</text><text x="594" y="167">8</text><text x="597" y="199">10</text><text x="632" y="199">Bronx Pk South</text><text x="664" y="222">5</text>
<text x="562" y="300">Whitlock Av</text><text x="586" y="277">Elder Av</text><text x="540" y="324">Hunts Point Av</text><text x="515" y="347">Longwood Av</text><text x="499" y="363">E 149</text><text x="484" y="379">E 143</text><text x="468" y="394">Cypress Av</text><text x="453" y="410">Brook Av</text>
<text x="657" y="11">E 241</text><text x="657" y="26">E 238</text><text x="657" y="42">E 233</text><text x="657" y="58">E 225</text><text x="657" y="73">E 219</text><text x="657" y="89">Gun Hill Rd</text><text x="657" y="120">Burke Av</text><text x="657" y="144">Allerton Av</text><text x="657" y="159">Pelham Pkwy</text><text x="657" y="183">Bronx Park East</text><text x="657" y="206">E 180</text><text x="696" y="11">11</text><text x="696" y="19">2</text><text x="688" y="97">16</text><text x="688" y="105">(5)</text>
<text x="743" y="253">Westchester</text><text x="766" y="230">Middletown Rd</text><text x="797" y="206">Buhre Av</text><text x="822" y="175">Pelham Bay Pkwy</text><text x="845" y="191">12</text>
<text x="609" y="473">Ditmars Blvd</text><text x="641" y="481">N WW</text><text x="609" y="496">25 Av</text><text x="609" y="520">30 Av</text><text x="609" y="543">Broadway</text><text x="609" y="583">36 Av</text><text x="609" y="614">39 Av</text><text x="607" y="638">36 Av</text><text x="719" y="646">52 St</text><text x="742" y="622">61 St-Woodside</text><text x="766" y="599">69 St</text><text x="806" y="646">Queens Blvd</text><text x="845" y="520">Jackson Hts</text><text x="868" y="496">90 St</text><text x="891" y="473">Junction Blvd</text><text x="915" y="449">104</text><text x="938" y="426">111 St</text><text x="985" y="379">Willets Point Blvd</text><text x="1009" y="355">Main St</text><text x="1049" y="363">7 13</text>
<text x="1001" y="458">Corona Worlds Fair</text><text x="1001" y="481">Corona Pk South</text><text x="1001" y="505">Jewel Ave</text><text x="1001" y="528">Kew Gardens</text><text x="1096" y="465">Q</text>
<text x="390" y="772">33</text><text x="386" y="787">28</text><text x="386" y="818">18</text><text x="386" y="833">14</text><text x="343" y="833">14</text><text x="345" y="802">23</text><text x="381" y="802">23</text><text x="383" y="857">8 St</text><text x="378" y="849">Astor Pl</text><text x="367" y="772">34</text><text x="367" y="708">55</text><text x="351" y="677">59</text><text x="405" y="731">GC</text><text x="405" y="732">    SS</text>
<text x="331" y="896">W 4</text><text x="329" y="911">Houston St</text><text x="322" y="927">Spring</text><text x="346" y="935">Prince</text><text x="326" y="943">Canal</text><text x="350" y="966">Canal</text><text x="373" y="974">Canal</text><text x="373" y="990">Worth</text><text x="345" y="1005">Chambers - City Hall</text><text x="340" y="1021">City Hall</text><text x="313" y="990">E EE</text><text x="390" y="1023">JJ</text>
<text x="307" y="1060">Cortlandt</text><text x="345" y="1076">Rector</text><text x="340" y="1091">Bowling Green</text><text x="414" y="1091">Broad</text><text x="430" y="1083">Wall</text><text x="446" y="1075">Wall</text><text x="398" y="1138">Hanover</text><text x="437" y="1138">Clark</text><text x="461" y="1163">Boro Hall</text>
<text x="445" y="919">Houston</text><text x="457" y="912">Havermeyer St</text><text x="563" y="911">Broadway</text><text x="594" y="919">VV</text><text x="461" y="950">Delancey St Essex St</text><text x="445" y="958">Rivington</text><text x="528" y="943">Lorimer St</text><text x="578" y="974">Flushing</text><text x="578" y="997">Myrtle</text><text x="476" y="990">E Bway</text><text x="446" y="997">Grand</text><text x="446" y="1013">Canal</text><text x="446" y="1029">Chatham</text><text x="446" y="1045">Brooklyn Bridge</text><text x="547" y="1060">York St</text><text x="508" y="1107">High</text><text x="547" y="1146">Jay</text><text x="539" y="786">Greenpoint</text><text x="539" y="810">Nassau</text><text x="517" y="763">21</text><text x="616" y="637">36 Av</text>
<text x="633" y="1163">De Kalb</text><text x="665" y="1248">Pacific</text><text x="727" y="1225">Bergen</text><text x="743" y="1241">Grand Army Plaza</text><text x="758" y="1256">Brklyn Museum</text><text x="790" y="1265">Park Pl</text><text x="706" y="1265">7 Av</text><text x="720" y="1296">Botanic Garden</text><text x="733" y="1319">Prospect Pk</text><text x="790" y="1163">Dean St</text><text x="489" y="1248">Bergen St</text>
<text x="986" y="1146">MANHATTAN JUNCTION</text><text x="924" y="1155">HH</text><text x="924" y="1163">QJ</text>
</g>
<g>
<text transform="translate(627,318) rotate(-90)">Soundview Av</text><text transform="translate(646,322) rotate(-90)">St Lawrence Av</text><text transform="translate(661,287) rotate(-90)">E 177</text><text transform="translate(692,314) rotate(-90)">Castle Hill Av</text><text transform="translate(716,302) rotate(-90)">Zerega Av</text><text transform="translate(614,258) rotate(-90)">E 177</text><text transform="translate(591,206) rotate(-90)">174</text>
<text transform="translate(583,630) rotate(-90)">Queens Plaza</text><text transform="translate(583,745) rotate(-90)">Queens Plaza</text><text transform="translate(693,531) rotate(-90)">Steinway St</text><text transform="translate(716,531) rotate(-90)">46 St</text><text transform="translate(739,531) rotate(-90)">Northern Blvd</text><text transform="translate(763,531) rotate(-90)">65 St</text><text transform="translate(818,531) rotate(-90)">74 St</text><text transform="translate(826,498) rotate(-90)">MM</text>
<text transform="translate(661,676) rotate(-90)">33 St</text><text transform="translate(677,676) rotate(-90)">40 St</text><text transform="translate(692,676) rotate(-90)">46 St</text>
<text transform="translate(834,605) rotate(-90)">Elmhurst</text><text transform="translate(857,605) rotate(-90)">Grand Av</text><text transform="translate(881,635) rotate(-90)">Woodhaven Blvd</text><text transform="translate(904,590) rotate(-90)">63 Dr</text><text transform="translate(928,590) rotate(-90)">67 Av</text><text transform="translate(951,655) rotate(-90)">71 Av - Continental Av</text><text transform="translate(975,540) rotate(-90)">75 Av</text><text transform="translate(967,640) rotate(-90)">QB R RR</text><text transform="translate(967,596) rotate(-90)">EE</text><text transform="translate(975,596) rotate(-90)">GG</text>
<text transform="translate(998,610) rotate(-90)">Union Tpke</text><text transform="translate(1022,622) rotate(-90)">Van Wyck Blvd</text><text transform="translate(1061,612) rotate(-90)">Hillside Av</text><text transform="translate(1085,620) rotate(-90)">Parsons Blvd</text><text transform="translate(1108,594) rotate(-90)">169 St</text><text transform="translate(1132,594) rotate(-90)">179</text><text transform="translate(1140,594) rotate(-90)">FF</text><text transform="translate(1155,594) rotate(-90)">189</text><text transform="translate(1179,594) rotate(-90)">199</text><text transform="translate(1194,640) rotate(-90)">Francis Lewis Blvd</text><text transform="translate(1218,620) rotate(-90)">Hollis Ct Blvd</text><text transform="translate(1241,598) rotate(-90)">215 St</text><text transform="translate(1265,630) rotate(-90)">Springfield Blvd</text><text transform="translate(1282,582) rotate(-90)">F</text><text transform="translate(1290,582) rotate(-90)">E</text>
<text transform="translate(1045,688) rotate(-90)">Van Wyck Blvd</text><text transform="translate(1069,704) rotate(-90)">Stuphin Blvd</text><text transform="translate(1085,680) rotate(-90)">160</text><text transform="translate(1101,702) rotate(-90)">Jamaica 168</text><text transform="translate(1116,688) rotate(-90)">JJ Z</text><text transform="translate(1124,688) rotate(-90)">MM</text>
<text transform="translate(363,650) rotate(-90)">5 Av</text><text transform="translate(379,650) rotate(-90)">Park Av</text><text transform="translate(379,690) rotate(-90)">5 Av</text><text transform="translate(346,717) rotate(-90)">7 Av</text><text transform="translate(363,740) rotate(-90)">5 Av</text><text transform="translate(320,790) rotate(-90)">42-Times Sq</text><text transform="translate(333,778) rotate(-90)">7 13</text><text transform="translate(333,795) rotate(-90)">SS</text><text transform="translate(418,820) rotate(-90)">3 Av</text><text transform="translate(417,428) rotate(-90)">138</text><text transform="translate(417,340) rotate(-90)">156</text>
<text transform="translate(512,690) rotate(-90)">23</text><text transform="translate(505,820) rotate(-90)">Vernon-Jackson Ave</text><text transform="translate(518,728) rotate(-90)">49 Av</text><text transform="translate(544,765) rotate(-90)">45 Rd Court Sq</text><text transform="translate(499,870) rotate(-45)">Metropolitan</text><text transform="translate(598,740) rotate(-90)">VV</text><text transform="translate(427,980) rotate(-90)">Bowery</text><text transform="translate(427,905) rotate(-90)">2 Av</text><text transform="translate(418,1070) rotate(-90)">Fulton</text>
<text transform="translate(395,1272) rotate(-90)">Red Hook</text><text transform="translate(419,1272) rotate(-90)">Coffey Pk</text><text transform="translate(442,1272) rotate(-90)">Columbia</text><text transform="translate(466,1225) rotate(-90)">Kane</text><text transform="translate(489,1225) rotate(-90)">Atlantic Av</text><text transform="translate(512,1225) rotate(-90)">Court</text><text transform="translate(512,1190) rotate(-90)">Hoyt</text><text transform="translate(559,1215) rotate(-90)">Hoyt</text><text transform="translate(575,1185) rotate(-90)">Nevins St</text><text transform="translate(700,1202) rotate(-90)">Atlantic</text><text transform="translate(732,1117) rotate(-90)">Laffayette</text><text transform="translate(763,1117) rotate(-90)">Washington</text><text transform="translate(787,1117) rotate(-90)">Franklin</text><text transform="translate(818,1117) rotate(-90)">Nostrand</text><text transform="translate(849,1117) rotate(-90)">Kingston</text><text transform="translate(881,1117) rotate(-90)">Utica</text><text transform="translate(912,1117) rotate(-90)">Ralph</text><text transform="translate(943,1117) rotate(-90)">Rockaway</text><text transform="translate(803,1335) rotate(-90)">Franklin Av</text>
</g>

<!-- LEGEND -->
<g>
<g stroke-width="4" fill="#fff">
<circle cx="963" cy="15" r="6" stroke="#f00"/><circle cx="963" cy="31" r="6" stroke="#f00"/><circle cx="963" cy="46" r="6" stroke="#f00"/><circle cx="963" cy="62" r="6" stroke="#2a7812"/><circle cx="963" cy="78" r="6" stroke="#2a7812"/><circle cx="963" cy="93" r="6" stroke="#2a7812"/><circle cx="963" cy="109" r="6" stroke="#2a7812"/><circle cx="963" cy="125" r="6" stroke="#9a2ca8"/><circle cx="963" cy="141" r="6" stroke="#0ff"/><circle cx="963" cy="156" r="6" stroke="#f00"/><circle cx="963" cy="172" r="6" stroke="#0ff"/><circle cx="963" cy="188" r="6" stroke="#0ff"/><circle cx="963" cy="203" r="6" stroke="#2a7812"/><circle cx="963" cy="219" r="6" stroke="#9a2ca8"/><circle cx="963" cy="235" r="6" stroke="#0ff"/><circle cx="963" cy="250" r="6" stroke="#0ff"/><circle cx="963" cy="266" r="6" stroke="#0ff"/>
<circle cx="1222" cy="15" r="6" stroke="#00f"/><circle cx="1222" cy="31" r="6" stroke="#00f"/><circle cx="1222" cy="46" r="6" stroke="#f60"/><circle cx="1222" cy="62" r="6" stroke="#00f"/><circle cx="1222" cy="78" r="6" stroke="#00f"/><circle cx="1222" cy="93" r="6" stroke="#f60"/><circle cx="1222" cy="109" r="6" stroke="#00f"/><circle cx="1222" cy="125" r="6" stroke="#00f"/><circle cx="1222" cy="141" r="6" stroke="#0f0"/><circle cx="1222" cy="156" r="6" stroke="#f06"/><circle cx="1222" cy="172" r="6" stroke="#804015"/><circle cx="1222" cy="188" r="6" stroke="#00f"/><circle cx="1222" cy="203" r="6" stroke="#999"/><circle cx="1222" cy="219" r="6" stroke="#804015"/><circle cx="1222" cy="235" r="6" stroke="#f60"/><circle cx="1222" cy="250" r="6" stroke="#ff0"/>
<circle cx="1222" cy="337" r="6" stroke="#804015"/><circle cx="1222" cy="352" r="6" stroke="#ff0"/><circle cx="1222" cy="368" r="6" stroke="#ff0"/><circle cx="1222" cy="384" r="6" stroke="#f60"/><circle cx="1222" cy="399" r="6" stroke="#ff0"/><circle cx="1222" cy="415" r="6" stroke="#804015"/><circle cx="1222" cy="431" r="6" stroke="#f60"/><circle cx="1222" cy="446" r="6" stroke="#f60"/><circle cx="1222" cy="462" r="6" stroke="#555"/>
</g>
<g stroke-width="8" stroke-linecap="round">
<line x1="988" y1="15" x2="1026" y2="15" stroke="#f00"/><line x1="1030" y1="15" x2="1080" y2="15" stroke="#999"/>
<line x1="1000" y1="31" x2="1026" y2="31" stroke="#f00"/><line x1="1030" y1="31" x2="1080" y2="31" stroke="#999"/>
<line x1="1000" y1="46" x2="1026" y2="46" stroke="#f00"/><line x1="1032" y1="46" x2="1085" y2="46" stroke="#999"/>
<line x1="988" y1="62" x2="1033" y2="62" stroke="#2a7812"/><line x1="1036" y1="62" x2="1060" y2="62" stroke="#999"/>
<line x1="988" y1="78" x2="1033" y2="78" stroke="#2a7812"/><line x1="1036" y1="78" x2="1070" y2="78" stroke="#999"/>
<line x1="988" y1="93" x2="1033" y2="93" stroke="#2a7812"/><line x1="1036" y1="93" x2="1083" y2="93" stroke="#999"/>
<line x1="988" y1="109" x2="1033" y2="109" stroke="#2a7812"/><line x1="1036" y1="109" x2="1070" y2="109" stroke="#999"/>
<line x1="988" y1="125" x2="1033" y2="125" stroke="#9a2ca8"/><line x1="1036" y1="125" x2="1075" y2="125" stroke="#999"/>
<line x1="988" y1="141" x2="1036" y2="141" stroke="#0ff"/><line x1="1040" y1="141" x2="1080" y2="141" stroke="#999"/>
<line x1="1000" y1="156" x2="1036" y2="156" stroke="#f00"/><line x1="1040" y1="156" x2="1082" y2="156" stroke="#999"/>
<line x1="1000" y1="172" x2="1036" y2="172" stroke="#0ff"/><line x1="1040" y1="172" x2="1080" y2="172" stroke="#999"/>
<line x1="1003" y1="188" x2="1036" y2="188" stroke="#0ff"/><line x1="1040" y1="188" x2="1080" y2="188" stroke="#999"/>
<line x1="1000" y1="203" x2="1036" y2="203" stroke="#2a7812"/><line x1="1052" y1="203" x2="1078" y2="203" stroke="#999"/>
<line x1="1000" y1="219" x2="1036" y2="219" stroke="#9a2ca8"/><line x1="1052" y1="219" x2="1078" y2="219" stroke="#999"/>
<line x1="1003" y1="235" x2="1036" y2="235" stroke="#0ff"/><line x1="1053" y1="235" x2="1080" y2="235" stroke="#999"/>
<line x1="1003" y1="250" x2="1036" y2="250" stroke="#0ff"/><line x1="1053" y1="250" x2="1080" y2="250" stroke="#999"/>
<line x1="1003" y1="266" x2="1036" y2="266" stroke="#0ff"/><line x1="1053" y1="266" x2="1080" y2="266" stroke="#999"/>
<line x1="1231" y1="15" x2="1322" y2="15" stroke="#00f"/><line x1="1330" y1="15" x2="1365" y2="15" stroke="#999"/>
<line x1="1233" y1="31" x2="1322" y2="31" stroke="#00f"/><line x1="1330" y1="31" x2="1365" y2="31" stroke="#999"/>
<line x1="1231" y1="46" x2="1322" y2="46" stroke="#f60"/><line x1="1330" y1="46" x2="1385" y2="46" stroke="#999"/>
<line x1="1231" y1="62" x2="1322" y2="62" stroke="#00f"/><line x1="1330" y1="62" x2="1365" y2="62" stroke="#999"/>
<line x1="1233" y1="78" x2="1322" y2="78" stroke="#00f"/><line x1="1330" y1="78" x2="1365" y2="78" stroke="#999"/>
<line x1="1231" y1="93" x2="1322" y2="93" stroke="#f60"/><line x1="1330" y1="93" x2="1365" y2="93" stroke="#999"/>
<line x1="1231" y1="109" x2="1322" y2="109" stroke="#00f"/><line x1="1330" y1="109" x2="1365" y2="109" stroke="#999"/>
<line x1="1231" y1="125" x2="1322" y2="125" stroke="#00f"/><line x1="1330" y1="125" x2="1360" y2="125" stroke="#999"/>
<line x1="1236" y1="141" x2="1340" y2="141" stroke="#0f0"/><line x1="1345" y1="141" x2="1380" y2="141" stroke="#999"/>
<line x1="1231" y1="156" x2="1322" y2="156" stroke="#f06"/><line x1="1330" y1="156" x2="1390" y2="156" stroke="#999"/>
<line x1="1231" y1="172" x2="1270" y2="172" stroke="#804015"/><line x1="1280" y1="172" x2="1335" y2="172" stroke="#999"/>
<line x1="1231" y1="188" x2="1322" y2="188" stroke="#00f"/><line x1="1330" y1="188" x2="1365" y2="188" stroke="#999"/>
<line x1="1340" y1="203" x2="1370" y2="203" stroke="#999"/>
<line x1="1231" y1="219" x2="1322" y2="219" stroke="#804015"/><line x1="1330" y1="219" x2="1380" y2="219" stroke="#999"/>
<line x1="1237" y1="235" x2="1380" y2="235" stroke="#f60"/><line x1="1385" y1="235" x2="1440" y2="235" stroke="#999"/>
<line x1="1231" y1="250" x2="1330" y2="250" stroke="#ff0"/><line x1="1340" y1="250" x2="1380" y2="250" stroke="#999"/>
<line x1="1245" y1="266" x2="1450" y2="266" stroke="#ff0"/><line x1="1455" y1="266" x2="1505" y2="266" stroke="#999"/>
<line x1="1250" y1="321" x2="1475" y2="321" stroke="#ff0"/><line x1="1475" y1="321" x2="1513" y2="321" stroke="#999"/>
<line x1="1250" y1="337" x2="1365" y2="337" stroke="#804015"/><line x1="1390" y1="337" x2="1415" y2="337" stroke="#999"/>
<line x1="1260" y1="352" x2="1410" y2="352" stroke="#ff0"/><line x1="1420" y1="352" x2="1455" y2="352" stroke="#999"/>
<line x1="1280" y1="368" x2="1400" y2="368" stroke="#ff0"/><line x1="1405" y1="368" x2="1465" y2="368" stroke="#999"/>
<line x1="1245" y1="384" x2="1280" y2="384" stroke="#f60"/><line x1="1290" y1="384" x2="1320" y2="384" stroke="#999"/>
<line x1="1258" y1="399" x2="1335" y2="399" stroke="#ff0"/><line x1="1340" y1="399" x2="1378" y2="399" stroke="#999"/>
<line x1="1240" y1="415" x2="1375" y2="415" stroke="#804015"/><line x1="1380" y1="415" x2="1420" y2="415" stroke="#999"/>
<line x1="1245" y1="431" x2="1435" y2="431" stroke="#f60"/><line x1="1440" y1="431" x2="1475" y2="431" stroke="#999"/>
<line x1="1248" y1="446" x2="1440" y2="446" stroke="#f60"/><line x1="1440" y1="446" x2="1475" y2="446" stroke="#999"/>
<line x1="1250" y1="462" x2="1340" y2="462" stroke="#555"/><line x1="1345" y1="462" x2="1385" y2="462" stroke="#999"/>
</g>
<g class="s"><circle cx="963" cy="15" r="3.5"/><circle cx="963" cy="31" r="3.5"/><circle cx="963" cy="46" r="3.5"/><circle cx="963" cy="62" r="3.5"/><circle cx="963" cy="78" r="3.5"/><circle cx="963" cy="93" r="3.5"/><circle cx="963" cy="109" r="3.5"/><circle cx="963" cy="125" r="3.5"/><circle cx="963" cy="141" r="3.5"/><circle cx="963" cy="156" r="3.5"/><circle cx="963" cy="172" r="3.5"/><circle cx="963" cy="188" r="3.5"/><circle cx="963" cy="203" r="3.5"/><circle cx="963" cy="219" r="3.5"/><circle cx="963" cy="235" r="3.5"/><circle cx="963" cy="250" r="3.5"/><circle cx="963" cy="266" r="3.5"/>
<circle cx="1222" cy="15" r="3.5"/><circle cx="1222" cy="31" r="3.5"/><circle cx="1222" cy="46" r="3.5"/><circle cx="1222" cy="62" r="3.5"/><circle cx="1222" cy="78" r="3.5"/><circle cx="1222" cy="93" r="3.5"/><circle cx="1222" cy="109" r="3.5"/><circle cx="1222" cy="125" r="3.5"/><circle cx="1222" cy="141" r="3.5"/><circle cx="1222" cy="156" r="3.5"/><circle cx="1222" cy="172" r="3.5"/><circle cx="1222" cy="188" r="3.5"/><circle cx="1222" cy="203" r="3.5"/><circle cx="1222" cy="219" r="3.5"/><circle cx="1222" cy="235" r="3.5"/><circle cx="1222" cy="250" r="3.5"/><circle cx="1222" cy="266" r="3.5"/><circle cx="1222" cy="272" r="3.5"/><circle cx="1222" cy="321" r="3.5"/><circle cx="1222" cy="328" r="3.5"/><circle cx="1222" cy="337" r="3.5"/><circle cx="1222" cy="352" r="3.5"/><circle cx="1222" cy="368" r="3.5"/><circle cx="1222" cy="384" r="3.5"/><circle cx="1222" cy="399" r="3.5"/><circle cx="1222" cy="415" r="3.5"/><circle cx="1222" cy="431" r="3.5"/><circle cx="1222" cy="446" r="3.5"/><circle cx="1222" cy="462" r="3.5"/></g>
<g>
<text x="970" y="18">1 7 Ave Local  All Times  242St-South Ferry</text>
<text x="970" y="34">2    7 Ave Exp   All Times  E 241 St - Flatbush Av</text>
<text x="970" y="49">3    7 Ave Exp   Day Times  155 St - New Lots Av</text>
<text x="970" y="65">4 Lex Ave Exp  All Times  Woodlawn - Kings Hwy</text>
<text x="970" y="81">5 Lex Ave Exp  Late Nights  Gun Hill Rd - Flatbush Av</text>
<text x="970" y="96">5 Lex Ave Exp  Day Times  E 180 St - South Ferry</text>
<text x="970" y="112">6 Lex Ave Lcl   All Times  Pelham Bay Pkwy - City Hall</text>
<text x="970" y="128">7 Flatbush Lcl  All Times  Times Sq - Main St</text>
<text x="970" y="144">8 2 Ave Local   All Times  Bronx Pk West - South Ferry</text>
<text x="970" y="159">9   7 Ave Exp   All Times  242 St - Kings Hwy</text>
<text x="970" y="175">10 2 Ave Local  All Times  Bronx Pk South - South Ferry</text>
<text x="970" y="191">11  2 Ave Exp   All Times  E 241 St - South Ferry</text>
<text x="970" y="206">12 Lex Ave Exp  Peak Hrs  Pelham Bay Pkwy - Utica Av</text>
<text x="970" y="222">13 Flatbush Exp  Peak Hrs  Times Sq - Main St</text>
<text x="970" y="238">14  9 Ave Exp     All Times  Woodlawn - South Ferry</text>
<text x="970" y="253">15  9 Ave Lcl      All Times  155 St - South Ferry</text>
<text x="970" y="269">16  2 Ave Exp      All Times  Gun Hill Rd - South Ferry</text>
<text x="1228" y="18">A  8 Ave Exp Rockaway Lcl   All Times   207 St - Beach 149 St</text>
<text x="1228" y="34">AA   8 Ave Lcl Fulton St Lcl    Peak Hrs   Bedford Pk Blvd - Euclid Av</text>
<text x="1228" y="49">BB 6 Ave Brighton Beach Exp Day Times   Bedford Pk Blvd - Stillwell Av</text>
<text x="1228" y="65">C   8 Ave Exp Rockaway Lcl   All Times   205 St - Mott Av</text>
<text x="1228" y="81">CC   8 Ave Lcl Fulton St Lcl    All Times   168 St - Springfield Blvd</text>
<text x="1228" y="96">D   6 Ave Exp West End Lcl     All Times   205 St - Stillwell Av</text>
<text x="1228" y="112">E   8 Ave Lcl Queens Blvd Exp All Times   Rockaway Blvd - Hollis Hills 89 Av</text>
<text x="1228" y="128">EE  8 Ave Lcl Queens Blvd Lcl Peak Hrs   Chambers - 71 Av</text>
<text x="1228" y="144">GG Queens Blvd Lcl Church Av Lcl   All Times   Church Av - 71 Av</text>
<text x="1228" y="159">HH   Cobble Hill Tunnel Lcl   All Times   Manhattan Junction - Governors Island</text>
<text x="1228" y="175">JJ   Jamaica Lcl   All Times   Chambers St - Jamaica 168 St</text>
<text x="1228" y="191">K   8 Ave Exp Fulton St Exp  All Times   145 St - Springfield Blvd</text>
<text x="1228" y="206">L   Canarsie Local   All Times   14 St - Rockaway Pkwy</text>
<text x="1228" y="222">M   Jamaica Lcl Church Av Exp   Day Times   74 Av - Stillwell Av</text>
<text x="1228" y="238">MM    Jamaica Lcl 6 Av Lcl Queens Blvd Lcl   All Times   74 Av - Jamaica 168 St</text>
<text x="1228" y="253">N   Broadway Exp 4 Av Exp   All Times   Stillwell Av - Ditmars Blvd</text>
<text x="1228" y="269">Q    Brighton Beach Lcl Broadway Exp Queens Blvd Lcl   All Times</text>
<text x="1228" y="276">Brighton Beach - Corona Worlds Fair</text>
<text x="1228" y="324">QB    Brighton Beach Lcl Broadway Exp Queens Blvd Lcl    Day Times</text>
<text x="1228" y="331">Brighton Beach - 71 Av</text>
<text x="1228" y="340">QJ    Jamaica Local 4 Av Lcl    Day Times    Manhattan Junction - Stillwell Av</text>
<text x="1228" y="355">R    Queens Blvd Broadway Lcl 4 Av Exp    Day Times    71 Av - Staten Island Term</text>
<text x="1228" y="371">RR    Queens Blvd Broadway 4 Av Lcl    All Times    71 Av - Staten Island Terminal</text>
<text x="1228" y="387">VV    6 Av Lcl    All Times    Broadway - Queens Plaza</text>
<text x="1228" y="402">WW    Broadway Lcl    Day Times    Prospect Pk - Ditmars Blvd</text>
<text x="1228" y="418">Z   Jamaica Exp West End Exp    Peak Hrs    Stillwell Av - Jamaica 168 St</text>
<text x="1228" y="434">F    Church Av Exp 6 Av Lcl Queens Blvd Exp    Day Times    Stillwell Av - Hollis 89 Av</text>
<text x="1228" y="449">FF    Church Av Lcl 6 Av Lcl Queens Blvd Exp    All Times    Stillwell Av - 179 St</text>
<text x="1228" y="465">SS     Times Sq Shuttle    Day Times    Times Sq - Grand Central</text>
</g>
</g>
</g>
</svg>
</body></html>
